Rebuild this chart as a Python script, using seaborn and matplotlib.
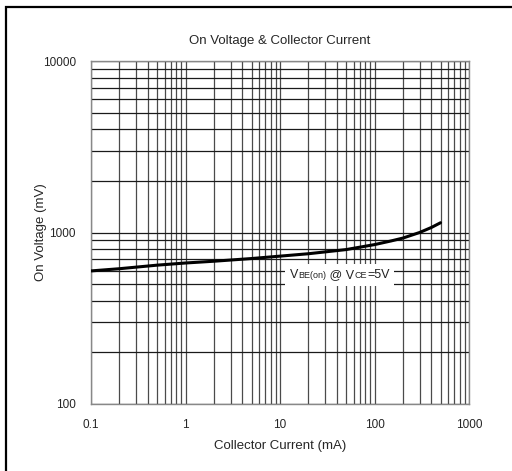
import numpy as np
import pandas as pd
import matplotlib
matplotlib.use("Agg")
import matplotlib.pyplot as plt
import seaborn as sns
from matplotlib.offsetbox import TextArea, HPacker, AnnotationBbox
from matplotlib.patches import Rectangle

# Values
collector_current = [0.1, 0.2, 0.5, 1, 2, 5, 10, 20, 50, 100, 150, 200, 300, 400, 500]  # mA
on_voltage = [597, 615, 645, 664, 680, 705, 728, 752, 795, 850, 893, 928, 1000, 1070, 1140]  # mV

df = pd.DataFrame({"Ic": collector_current, "Vbe": on_voltage})

sns.set_style("white")
plt.rcParams["font.family"] = ["Liberation Sans", "DejaVu Sans"]

fig = plt.figure(figsize=(5.12, 4.71), dpi=100)
ax = fig.add_axes([91 / 512, 1 - 404 / 471, (469 - 91) / 512, (404 - 61) / 471])

sns.lineplot(data=df, x="Ic", y="Vbe", color="black", linewidth=2.2, ax=ax, zorder=5)

ax.set_xscale("log")
ax.set_yscale("log")
ax.set_xlim(0.1, 1000)
ax.set_ylim(100, 10000)

ax.grid(True, which="both", axis="x", color="#4a4a4a", linewidth=0.9)
ax.grid(True, which="both", axis="y", color="#1a1a1a", linewidth=0.9)
ax.tick_params(which="both", length=0, labelsize=8.5)
ax.set_xticks([0.1, 1, 10, 100, 1000])
ax.set_xticklabels(["0.1", "1", "10", "100", "1000"])
ax.set_yticks([100, 1000, 10000])
ax.set_yticklabels(["100", "1000", "10000"])
ax.tick_params(axis="y", pad=11)
ax.tick_params(axis="x", pad=11)
for s in ax.spines.values():
    s.set_color("#888888")
    s.set_linewidth(1.0)

ax.set_title("On Voltage & Collector Current", fontsize=9.5, pad=12)
ax.set_xlabel("Collector Current (mA)", fontsize=9.5, labelpad=6)
ax.set_ylabel("On Voltage (mV)", fontsize=9.5, labelpad=-3)

# curve label with small subscripts on the baseline
big, small = 9, 6.5
parts = [("V", big), ("BE(on)", small), (" @ V", big), ("CE", small), ("=5V", big)]
areas = [TextArea(t, textprops=dict(fontsize=s, color="#222222")) for t, s in parts]
box = HPacker(children=areas, align="baseline", pad=0, sep=0)
ab = AnnotationBbox(box, (43, 565), xycoords="data", frameon=True,
                    bboxprops=dict(facecolor="white", edgecolor="none"),
                    pad=0.35, zorder=6)
ax.add_artist(ab)

# outer frame, cropped on the right and bottom
fig.patches.append(Rectangle((6 / 512, -0.1), 1.2, 1 - 7 / 471 + 0.1,
                             transform=fig.transFigure, fill=False,
                             edgecolor="black", linewidth=1.6))

fig.savefig("out.png", dpi=100)
